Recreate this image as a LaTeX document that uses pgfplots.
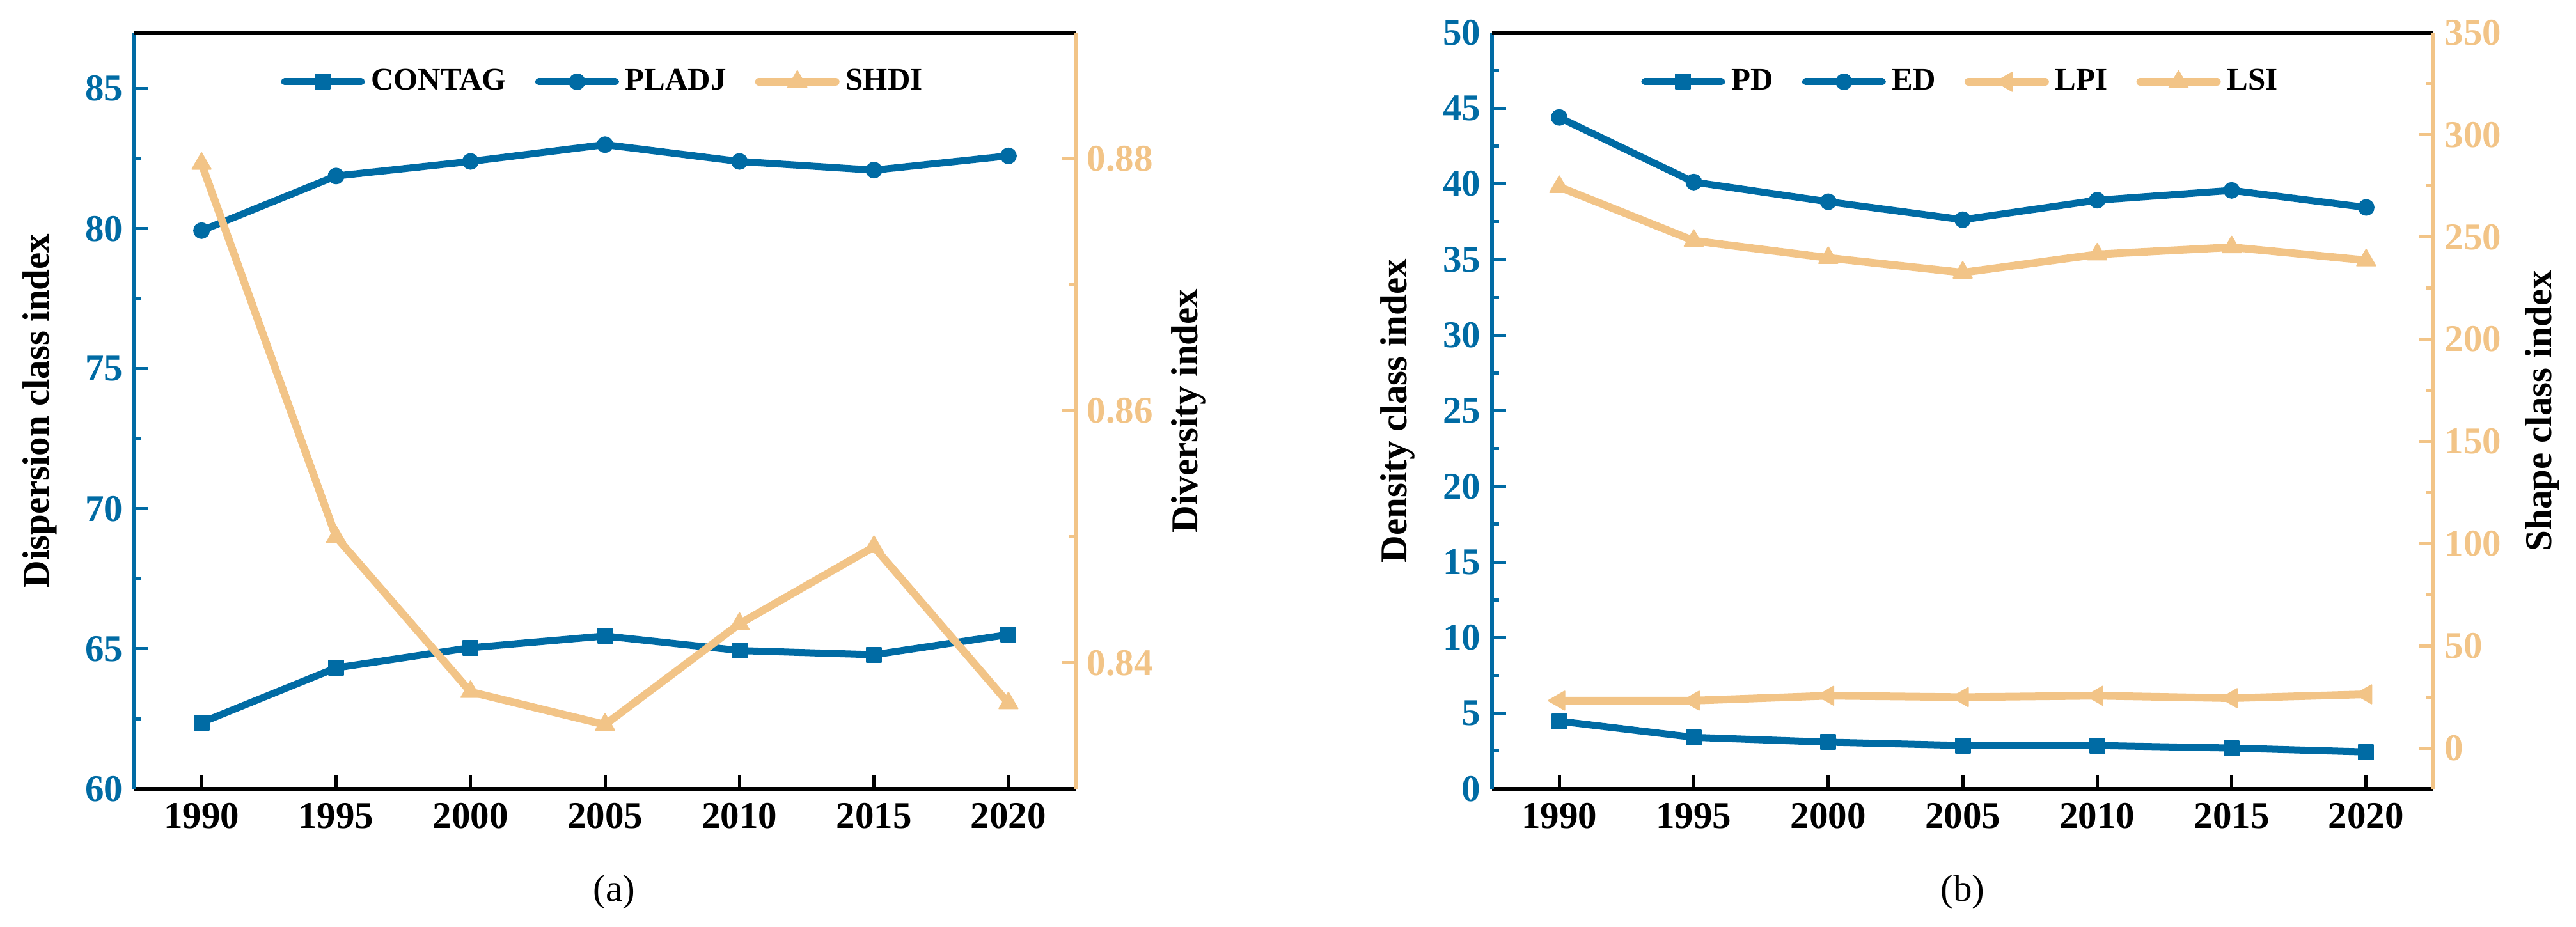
\documentclass[border=0pt]{standalone}
\usepackage{pgfplots}
\pgfplotsset{compat=1.18}
\usepackage{pgfplotstable}
\usepackage{fontspec}
\setmainfont{Liberation Serif}

\definecolor{cblue}{RGB}{0,107,164}
\definecolor{corange}{RGB}{242,196,135}

% panel (a)
\pgfplotstableread{
year CONTAG PLADJ SHDI
1990 62.37 79.93 0.8796
1995 64.32 81.88 0.8500
2000 65.04 82.40 0.8377
2005 65.46 83.00 0.8351
2010 64.94 82.40 0.8431
2015 64.79 82.09 0.8492
2020 65.51 82.60 0.8368
}\tabA

% panel (b)
\pgfplotstableread{
year PD ED LPI LSI
1990 4.48 44.39 23.2 274.5
1995 3.41 40.12 23.2 248.2
2000 3.09 38.82 25.6 239.8
2005 2.87 37.63 24.9 232.6
2010 2.87 38.92 25.6 241.5
2015 2.70 39.57 24.4 245.0
2020 2.44 38.44 26.3 238.6
}\tabB

\newcommand{\lbl}{\bfseries\fontsize{11.8}{14}\selectfont}

\pgfplotsset{
  panel/.style={
    width=294.4pt, height=236.6pt, scale only axis,
    xmin=1987.5, xmax=2022.5,
    tick align=inside,
    major tick length=4.4pt, minor tick length=2.2pt,
    /pgf/number format/assume math mode=true,
    /pgf/number format/1000 sep={},
    ticklabel style={font=\lbl},
    label style={font=\lbl},
    clip=false,
  },
  leftaxis/.style={
    panel,
    axis x line*=bottom, axis y line*=left,
    x axis line style={black, line width=1.1pt, -},
    y axis line style={cblue, line width=1.1pt, -},
    xtick={1990,1995,...,2020},
    xticklabel style={yshift=-1pt},
    x tick style={black, line width=1pt},
    y tick style={cblue, line width=1pt},
    yticklabel style={text=cblue},
    minor y tick num=1,
    ylabel style={at={(axis description cs:-0.1,0.5)}, anchor=center},
  },
  rightaxis/.style={
    panel,
    axis x line*=top, axis y line*=right,
    x axis line style={black, line width=1.1pt, -},
    y axis line style={corange, line width=1.1pt, -},
    xtick=\empty,
    y tick style={corange, line width=1pt},
    yticklabel style={text=corange},
    ylabel style={at={(axis description cs:1.12,0.5)}, anchor=center},
    legend style={draw=none, fill=none, at={(axis description cs:0.5,0.935)},
      anchor=center, legend columns=-1,
      font=\bfseries\fontsize{9.8}{12}\selectfont,
      /tikz/every even column/.append style={column sep=7pt}},
    legend image code/.code={
      \draw[mark repeat=2, mark phase=2] plot coordinates {(0pt,0pt) (12pt,0pt) (24pt,0pt)};},
  },
  bl/.style={cblue, line width=2.2pt, line cap=round, line join=round},
  orl/.style={corange, line width=2.4pt, line cap=round, line join=round},
  msq/.style={mark=square*, mark size=2.3pt, mark options={solid, line width=0.4pt, fill=cblue}},
  mci/.style={mark=*, mark size=2.4pt, mark options={solid, line width=0.4pt, fill=cblue}},
  mtu/.style={mark=triangle*, mark size=3.4pt, mark options={solid, line width=0.4pt, fill=corange}},
  mtl/.style={mark=triangle*, mark size=3.4pt, mark options={solid, line width=0.4pt, fill=corange, rotate=90}},
}

\begin{document}
\begin{tikzpicture}

% ---------- (a) ----------
\begin{axis}[leftaxis, at={(0pt,0pt)}, anchor=south west,
  ymin=60, ymax=87, ytick={60,65,...,85},
  ylabel={Dispersion class index}]
  \addplot[bl, msq] table[x=year, y=CONTAG] {\tabA};
  \addplot[bl, mci] table[x=year, y=PLADJ] {\tabA};
  \node[font=\fontsize{11.8}{14}\selectfont] at (rel axis cs:0.51,-0.136) {(a)};
\end{axis}
\begin{axis}[rightaxis, at={(0pt,0pt)}, anchor=south west,
  ymin=0.83, ymax=0.89, ytick={0.84,0.86,0.88}, minor ytick={0.85,0.87},
  yticklabel style={/pgf/number format/.cd, fixed, fixed zerofill, precision=2},
  ylabel={Diversity index}]
  \addlegendimage{bl, msq}
  \addlegendentry{CONTAG}
  \addlegendimage{bl, mci}
  \addlegendentry{PLADJ}
  \addplot[orl, mtu] table[x=year, y=SHDI] {\tabA};
  \addlegendentry{SHDI}
\end{axis}

% ---------- (b) ----------
\begin{axis}[leftaxis, at={(424.6pt,0pt)}, anchor=south west,
  ymin=0, ymax=50, ytick={0,5,...,50},
  ylabel={Density class index}]
  \addplot[bl, msq] table[x=year, y=PD] {\tabB};
  \addplot[bl, mci] table[x=year, y=ED] {\tabB};
  \node[font=\fontsize{11.8}{14}\selectfont] at (rel axis cs:0.5,-0.136) {(b)};
\end{axis}
\begin{axis}[rightaxis, at={(424.6pt,0pt)}, anchor=south west,
  ymin=-20, ymax=350, ytick={0,50,...,350}, minor y tick num=1,
  ylabel style={at={(axis description cs:1.116,0.5)}},
  ylabel={Shape class index}]
  \addlegendimage{bl, msq}
  \addlegendentry{PD}
  \addlegendimage{bl, mci}
  \addlegendentry{ED}
  \addplot[orl, mtl] table[x=year, y=LPI] {\tabB};
  \addlegendentry{LPI}
  \addplot[orl, mtu] table[x=year, y=LSI] {\tabB};
  \addlegendentry{LSI}
\end{axis}

\pgfresetboundingbox
\path (-42pt,-43pt) rectangle (763.6pt,246.8pt);
\end{tikzpicture}
\end{document}
